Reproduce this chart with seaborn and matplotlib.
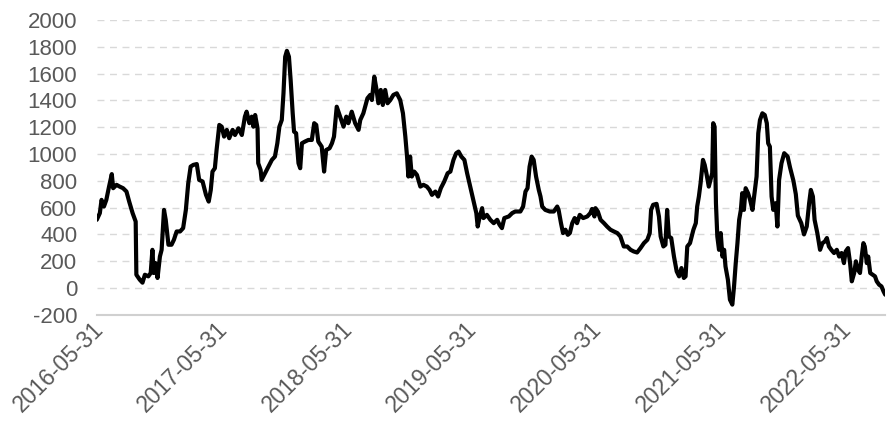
import pandas as pd
import numpy as np
import matplotlib
matplotlib.use("Agg")
import matplotlib.pyplot as plt
import matplotlib.transforms as mtransforms
import seaborn as sns

sns.set_theme(style="white")
plt.rcParams['font.family'] = ['Liberation Sans', 'DejaVu Sans']
plt.rcParams['axes.unicode_minus'] = False

# data: days after 2016-05-31 and the value on that day
start_date = "2016-05-31"
days = [
    0, 9, 14, 21, 28, 36, 44, 48, 58, 67, 77, 87, 95, 105, 114, 116, 126, 134, 141, 151,
    158, 163, 167, 172, 178, 185, 190, 197, 202, 210, 219, 226, 234, 244, 253, 261, 268, 275, 283, 293,
    300, 310, 320, 328, 334, 339, 346, 351, 359, 366, 373, 381, 388, 398, 405, 415, 425, 434, 439, 447,
    454, 459, 464, 471, 473, 480, 483, 493, 503, 513, 522, 529, 535, 542, 547, 552, 557, 563, 568, 574,
    578, 584, 591, 596, 601, 610, 620, 630, 637, 643, 649, 659, 666, 672, 682, 689, 695, 703, 713, 723,
    731, 737, 747, 757, 767, 772, 781, 793, 801, 806, 813, 819, 825, 832, 838, 845, 852, 860, 869, 879,
    889, 897, 904, 909, 913, 918, 923, 930, 938, 948, 957, 967, 975, 982, 992, 1000, 1008, 1018, 1028, 1036,
    1045, 1053, 1060, 1068, 1077, 1085, 1094, 1104, 1112, 1116, 1122, 1129, 1133, 1143, 1153, 1163, 1173, 1180, 1187, 1194,
    1207, 1217, 1226, 1241, 1249, 1256, 1262, 1268, 1274, 1280, 1287, 1295, 1300, 1305, 1314, 1327, 1339, 1349, 1353, 1360,
    1366, 1373, 1380, 1386, 1393, 1400, 1407, 1415, 1425, 1437, 1446, 1451, 1458, 1461, 1468, 1476, 1486, 1495, 1505, 1515,
    1525, 1534, 1544, 1554, 1564, 1573, 1583, 1593, 1603, 1613, 1620, 1624, 1630, 1640, 1647, 1652, 1660, 1666, 1671, 1676,
    1683, 1691, 1699, 1706, 1713, 1720, 1725, 1730, 1738, 1748, 1755, 1759, 1764, 1769, 1776, 1781, 1786, 1793, 1798, 1803,
    1806, 1810, 1814, 1818, 1823, 1828, 1833, 1838, 1842, 1849, 1855, 1862, 1867, 1872, 1877, 1882, 1887, 1891, 1896, 1901,
    1908, 1914, 1921, 1928, 1933, 1938, 1943, 1950, 1957, 1963, 1967, 1972, 1977, 1982, 1989, 1994, 1999, 2006, 2014, 2024,
    2031, 2041, 2048, 2054, 2064, 2072, 2080, 2087, 2092, 2098, 2103, 2111, 2119, 2126, 2133, 2139, 2145, 2152, 2160, 2168,
    2175, 2182, 2189, 2194, 2201, 2207, 2212, 2219, 2224, 2230, 2236, 2241, 2246, 2250, 2256, 2260, 2266, 2273, 2280, 2285,
    2292, 2299, 2305, 2310,
]
values = [
    509, 559, 658, 608, 658, 757, 850, 745, 770, 757, 745, 720, 645, 559, 496, 99, 62, 40, 99, 87,
    112, 285, 112, 186, 75, 235, 285, 583, 509, 323, 323, 360, 422, 422, 447, 583, 782, 906, 919, 925,
    807, 795, 695, 645, 732, 869, 894, 1030, 1217, 1204, 1130, 1180, 1118, 1180, 1142, 1192, 1142, 1279, 1316, 1230,
    1279, 1204, 1291, 1192, 931, 881, 807, 857, 906, 956, 981, 1080, 1204, 1254, 1453, 1726, 1770, 1726, 1552, 1304,
    1167, 1155, 931, 894, 1080, 1093, 1105, 1105, 1230, 1217, 1093, 1055, 869, 1030, 1043, 1080, 1130, 1353, 1279, 1204,
    1279, 1230, 1316, 1230, 1180, 1254, 1304, 1416, 1441, 1403, 1577, 1490, 1379, 1478, 1366, 1478, 1379, 1403, 1441, 1453,
    1403, 1304, 1130, 981, 832, 981, 832, 869, 844, 757, 770, 757, 732, 695, 720, 683, 745, 795, 857, 869,
    956, 1006, 1018, 981, 956, 857, 757, 645, 559, 459, 534, 596, 522, 546, 509, 484, 509, 472, 447, 522,
    534, 559, 571, 571, 608, 720, 745, 906, 981, 956, 832, 732, 683, 608, 583, 571, 571, 608, 583, 484,
    410, 435, 397, 410, 484, 522, 484, 546, 522, 534, 559, 590, 534, 596, 571, 509, 484, 459, 435, 422,
    410, 385, 310, 310, 285, 273, 265, 298, 335, 360, 410, 583, 621, 628, 534, 385, 310, 323, 583, 385,
    373, 235, 124, 87, 149, 75, 87, 310, 335, 435, 484, 608, 683, 782, 956, 919, 857, 757, 807, 857,
    1230, 1204, 633, 385, 285, 410, 235, 285, 161, 62, -87, -124, 12, 186, 335, 509, 583, 708, 583, 745,
    708, 658, 583, 732, 832, 1155, 1254, 1304, 1291, 1230, 1080, 1055, 683, 583, 633, 459, 807, 931, 1006, 981,
    900, 800, 700, 540, 484, 400, 459, 633, 732, 683, 509, 410, 285, 335, 347, 373, 310, 285, 261, 285,
    235, 261, 186, 273, 298, 186, 50, 112, 199, 137, 112, 235, 335, 310, 186, 235, 112, 99, 87, 50,
    25, 12, -25, -50,
]

y_ticks = [-200, 0, 200, 400, 600, 800, 1000, 1200, 1400, 1600, 1800, 2000]
x_tick_dates = pd.date_range(start_date, periods=7, freq=pd.DateOffset(years=1))

df = pd.DataFrame({
    "date": pd.Timestamp(start_date) + pd.to_timedelta(days, unit="D"),
    "value": values,
})

fig = plt.figure(figsize=(8.96, 4.26), dpi=100)
ax = fig.add_axes([0.108, 0.261, 0.880, 0.692])

sns.lineplot(data=df, x="date", y="value", color="black", linewidth=3.0, ax=ax)

ax.set_ylim(-200, 2000)
ax.set_xlim(df["date"].min(), df["date"].max())
ax.set_yticks(y_ticks)
ax.set_xticks(x_tick_dates)
ax.set_xticklabels([d.strftime("%Y-%m-%d") for d in x_tick_dates])
ax.set_xlabel("")
ax.set_ylabel("")

# dashed horizontal grid, solid line at the bottom
for yv in y_ticks[1:]:
    ax.axhline(yv, color="#d9d9d9", linestyle=(0, (5, 4)), linewidth=1.0, zorder=0)
for s in ["top", "right", "left"]:
    ax.spines[s].set_visible(False)
ax.spines["bottom"].set_color("#d0d0d0")
ax.spines["bottom"].set_linewidth(1.5)

ax.tick_params(axis="y", length=0, labelsize=16, labelcolor="#595959", pad=14)
ax.tick_params(axis="x", length=0, labelsize=16.5, labelcolor="#595959", pad=8)

offset = mtransforms.ScaledTranslation(3 / 100, 0, fig.dpi_scale_trans)
for lab in ax.get_xticklabels():
    lab.set_rotation(45)
    lab.set_ha("right")
    lab.set_va("center")
    lab.set_rotation_mode("anchor")
    lab.set_transform(lab.get_transform() + offset)

fig.savefig("out.png", dpi=100)
